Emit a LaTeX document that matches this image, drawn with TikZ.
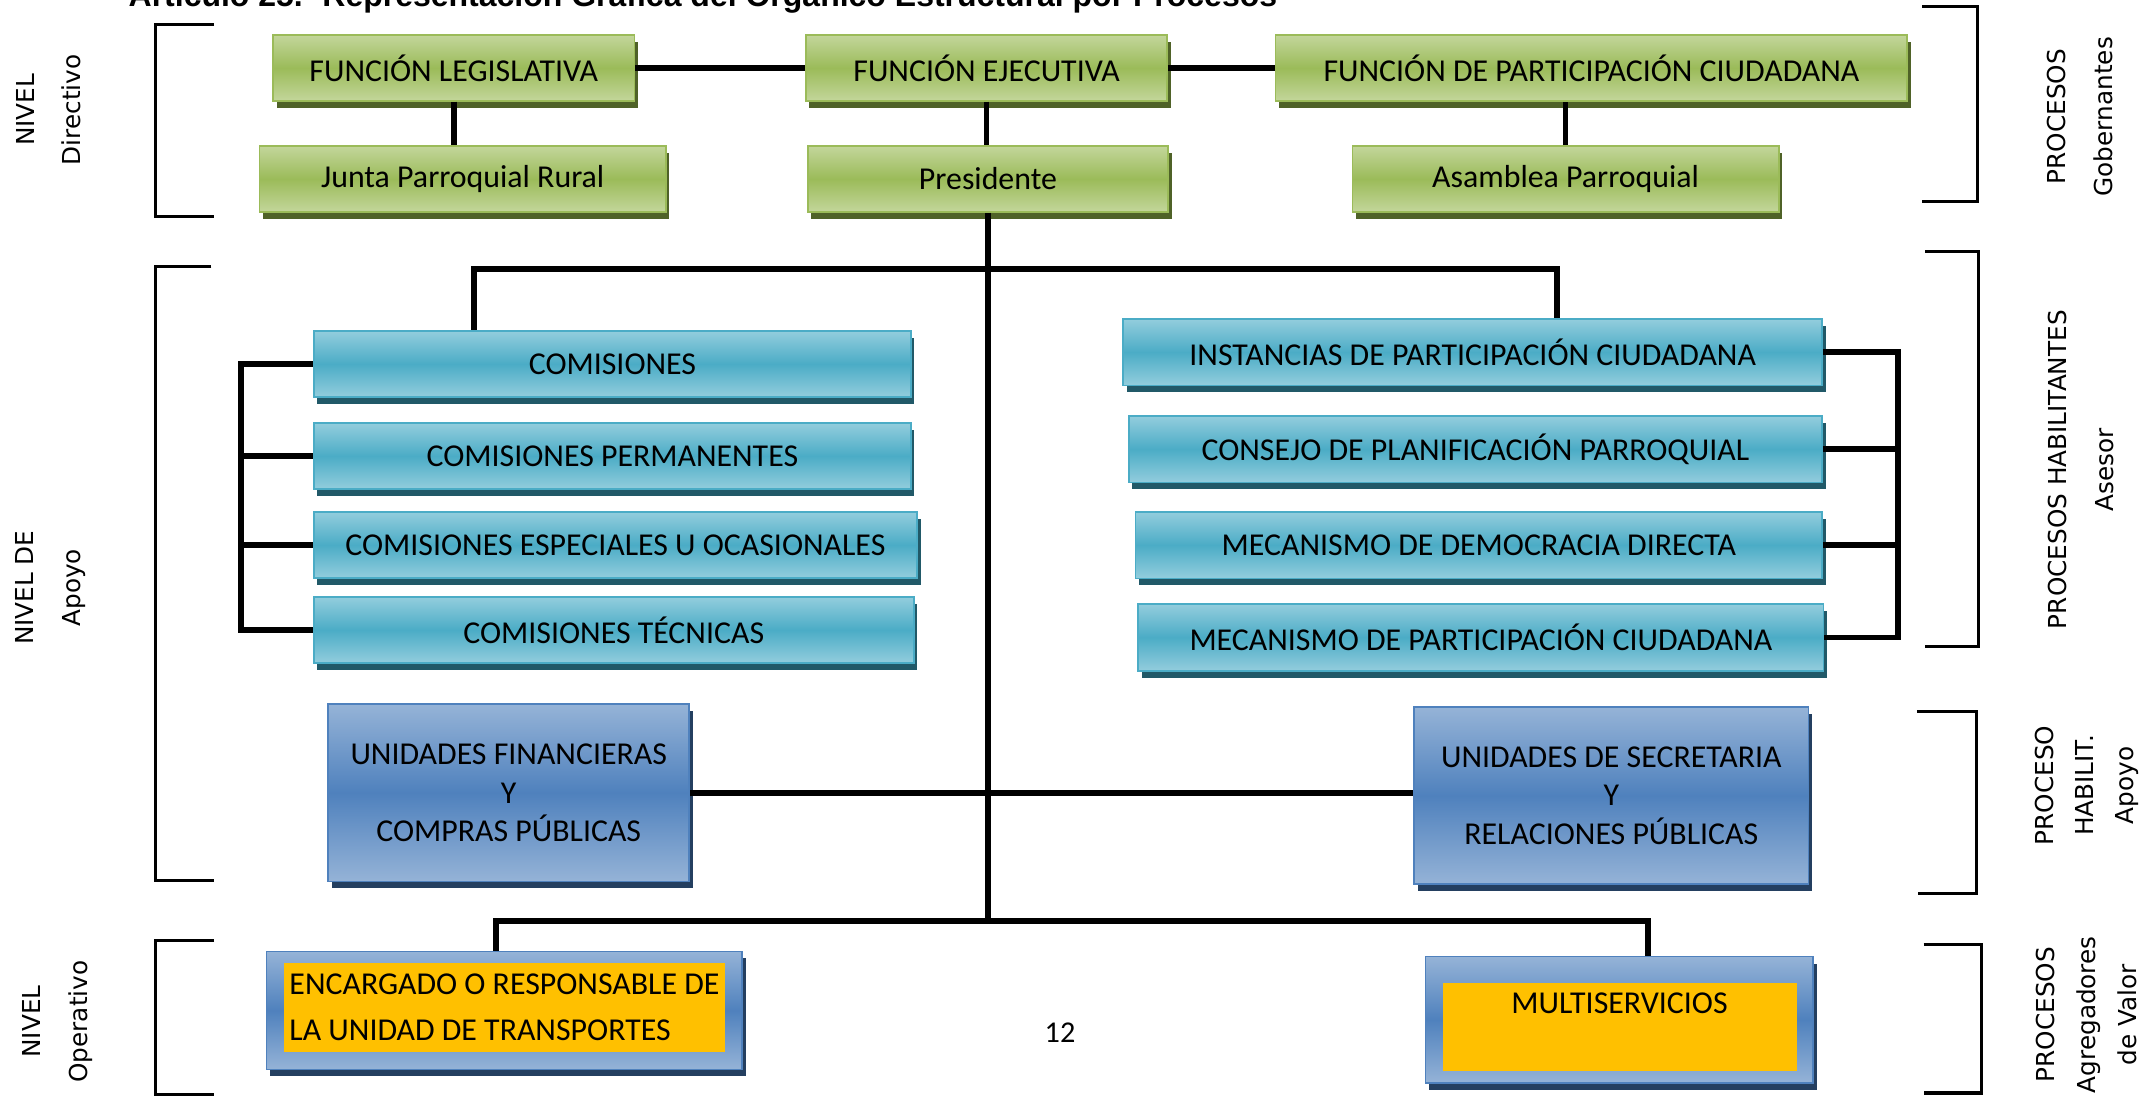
\documentclass[tikz,border=0pt]{standalone}
\usepackage{fontspec}
\setmainfont{Carlito}
\newfontfamily\labelfont{DejaVu Sans}
\newfontfamily\titlefont{Liberation Sans}
\usetikzlibrary{shadows}

\definecolor{olivelt}{HTML}{C3D69B}
\definecolor{olivemd}{HTML}{9BBB59}
\definecolor{olivedk}{HTML}{4F6228}
\definecolor{aqualt}{HTML}{93CDDD}
\definecolor{aquamd}{HTML}{4BACC6}
\definecolor{aquadk}{HTML}{215968}
\definecolor{bluelt}{HTML}{95B3D7}
\definecolor{bluemd}{HTML}{4F81BD}
\definecolor{bluedk}{HTML}{243F60}
\definecolor{amber}{HTML}{FFC000}

\tikzset{
  boxtext/.style={font=\fontsize{23.2}{28}\selectfont, align=center, inner sep=0pt, text=black},
  gbox/.style={boxtext, draw=olivemd, line width=1.2pt, top color=olivelt, bottom color=olivelt, middle color=olivemd,
    general shadow={fill=olivedk, shadow xshift=2.5pt, shadow yshift=-5pt}, minimum height=48pt},
  tbox/.style={boxtext, draw=aquamd, line width=1.2pt, top color=aqualt, bottom color=aqualt, middle color=aquamd,
    general shadow={fill=aquadk, shadow xshift=2.5pt, shadow yshift=-5pt}, minimum height=48.5pt},
  ubox/.style={boxtext, draw=bluemd, line width=1.2pt, top color=bluelt, bottom color=bluelt, middle color=bluemd,
    general shadow={fill=bluedk, shadow xshift=2.5pt, shadow yshift=-5pt}},
  obox/.style={boxtext, fill=amber},
  conn/.style={line width=4.2pt},
  brk/.style={line width=2.2pt},
  lbl/.style={font=\labelfont\fontsize{18}{34}\selectfont, align=center, inner sep=0pt, rotate=90},
  ttl/.style={font=\titlefont\bfseries\fontsize{23.3}{28}\selectfont, inner sep=0pt, anchor=base west}
}

\begin{document}
\begin{tikzpicture}[x=1pt,y=-1pt]
    \useasboundingbox (0,0) rectangle (1568,798.2);

    % title (cut at the top of the page)
    \node[ttl] (title) at (93.5,4.4) {Artículo 25.- Representación Gráfica del Orgánico Estructural por Procesos};

    % nivel directivo
    \node[gbox, minimum width=263pt] (leg) at (330.5,49.4) {FUNCIÓN LEGISLATIVA};
    \node[gbox, minimum width=263pt] (eje) at (718.5,49.4) {FUNCIÓN EJECUTIVA};
    \node[gbox, minimum width=460pt] (fpc) at (1159,49.4) {FUNCIÓN DE PARTICIPACIÓN CIUDADANA};
    \node[gbox, minimum width=296pt] (junta) at (337,130.3) {Junta Parroquial Rural};
    \node[gbox, minimum width=262.5pt] (pres) at (719.5,130.3) {Presidente};
    \node[gbox, minimum width=310.4pt] (asam) at (1140.2,130.3) {Asamblea Parroquial};

    % nivel de apoyo
    \node[tbox, minimum width=435pt] (com) at (446,265.1) {COMISIONES};
    \node[tbox, minimum width=435pt] (perm) at (446,332.1) {COMISIONES PERMANENTES};
    \node[tbox, minimum width=439.5pt] (esp) at (448.2,396.9) {COMISIONES ESPECIALES U OCASIONALES};
    \node[tbox, minimum width=437pt] (tec) at (447,458.8) {COMISIONES TÉCNICAS};
    \node[tbox, minimum width=509pt] (inst) at (1072.5,256.5) {INSTANCIAS DE PARTICIPACIÓN CIUDADANA};
    \node[tbox, minimum width=505pt] (cons) at (1074.5,327.2) {CONSEJO DE PLANIFICACIÓN PARROQUIAL};
    \node[tbox, minimum width=500pt] (mdd) at (1077,397) {MECANISMO DE DEMOCRACIA DIRECTA};
    \node[tbox, minimum width=499pt] (mpc) at (1078.5,464.2) {MECANISMO DE PARTICIPACIÓN CIUDADANA};
    \node[ubox, minimum width=263pt, minimum height=129.3pt] (fin) at (370.5,577.4) {UNIDADES FINANCIERAS\\Y\\COMPRAS PÚBLICAS};
    \node[ubox, minimum width=287pt, minimum height=129pt] (sec) at (1173.5,579.5) {UNIDADES DE SECRETARIA\\Y\\RELACIONES PÚBLICAS};

    % nivel operativo
    \node[ubox, minimum width=346.5pt, minimum height=85.8pt] (enc) at (367.3,735.9) {};
    \node[obox, minimum width=320.8pt, minimum height=65pt, align=left, font=\fontsize{23.2}{33}\selectfont] (encin) at (367.4,733.5) {ENCARGADO O RESPONSABLE DE\\LA UNIDAD DE TRANSPORTES};
    \node[ubox, minimum width=282.5pt, minimum height=91.8pt] (multi) at (1179.3,742.6) {};
    \node[obox, minimum width=257.7pt, text height=18pt, text depth=37pt, inner ysep=4.5pt] (multiin) at (1179.5,747.8) {MULTISERVICIOS};
    \node[font=\fontsize{22}{26}\selectfont] (pgnum) at (772,752) {12};

    % connectors
    \coordinate (hubL) at (345,196);
    \coordinate (hubR) at (1133.7,196);
    \coordinate (footL) at (361,670.5);
    \coordinate (footR) at (1200,670.5);
    \coordinate (busL) at (175.6,263);
    \coordinate (busR) at (1382,256);
    \draw[conn] (leg) -- (eje);
    \draw[conn] (eje.east) -- (eje.east -| fpc.west);
    \draw[conn] (leg.south) -- (leg.south |- junta.north);
    \draw[conn] (eje.south) -- (eje.south |- pres.north);
    \draw[conn] (asam.north) -- (asam.north |- fpc.south);
    \draw[conn] (pres.south) -- (pres.south |- footL);
    \draw[conn] (hubL |- com.north) -- (hubL) -- (hubR) -- (hubR |- inst.north);
    \draw[conn] (com.west) -- (com.west -| busL) -- (tec.west -| busL) -- (tec.west);
    \draw[conn] (perm.west) -- (perm.west -| busL);
    \draw[conn] (esp.west) -- (esp.west -| busL);
    \draw[conn] (inst.east) -- (inst.east -| busR) -- (mpc.east -| busR) -- (mpc.east);
    \draw[conn] (cons.east) -- (cons.east -| busR);
    \draw[conn] (mdd.east) -- (mdd.east -| busR);
    \draw[conn] (fin.east) -- (fin.east -| sec.west);
    \draw[conn] (footL |- enc.north) -- (footL) -- (footR) -- (footR |- multi.north);

    % left brackets and levels
    \draw[brk] (156,18) -- (113.5,18) -- (113.5,157.5) -- (156,157.5);
    \draw[brk] (154,194) -- (113.5,194) -- (113.5,641) -- (156,641);
    \draw[brk] (156,685) -- (113.5,685) -- (113.5,797) -- (156,797);
    \node[lbl] (nivdir) at (35.5,80) {NIVEL\\Directivo};
    \node[lbl] (nivapo) at (37,428) {NIVEL DE\\Apoyo};
    \node[lbl] (nivope) at (42,744) {NIVEL\\Operativo};

    % right brackets and processes
    \draw[brk] (1400,5) -- (1440,5) -- (1440,146.5) -- (1400,146.5);
    \draw[brk] (1402,183.3) -- (1441,183.3) -- (1441,470.5) -- (1402,470.5);
    \draw[brk] (1396,518.3) -- (1439.4,518.3) -- (1439.4,650.5) -- (1397,650.5);
    \draw[brk] (1401,688) -- (1443,688) -- (1443,796) -- (1401,796);
    \node[lbl] (pgob) at (1515,85) {PROCESOS\\Gobernantes};
    \node[lbl] (phab) at (1515.5,342) {PROCESOS HABILITANTES\\Asesor};
    \node[lbl, font=\labelfont\fontsize{18}{29}\selectfont] (papo) at (1520,572) {PROCESO\\HABILIT.\\Apoyo};
    \node[lbl, font=\labelfont\fontsize{18}{30}\selectfont] (pagr) at (1519.5,739) {PROCESOS\\Agregadores\\de Valor};
\end{tikzpicture}
\end{document}
